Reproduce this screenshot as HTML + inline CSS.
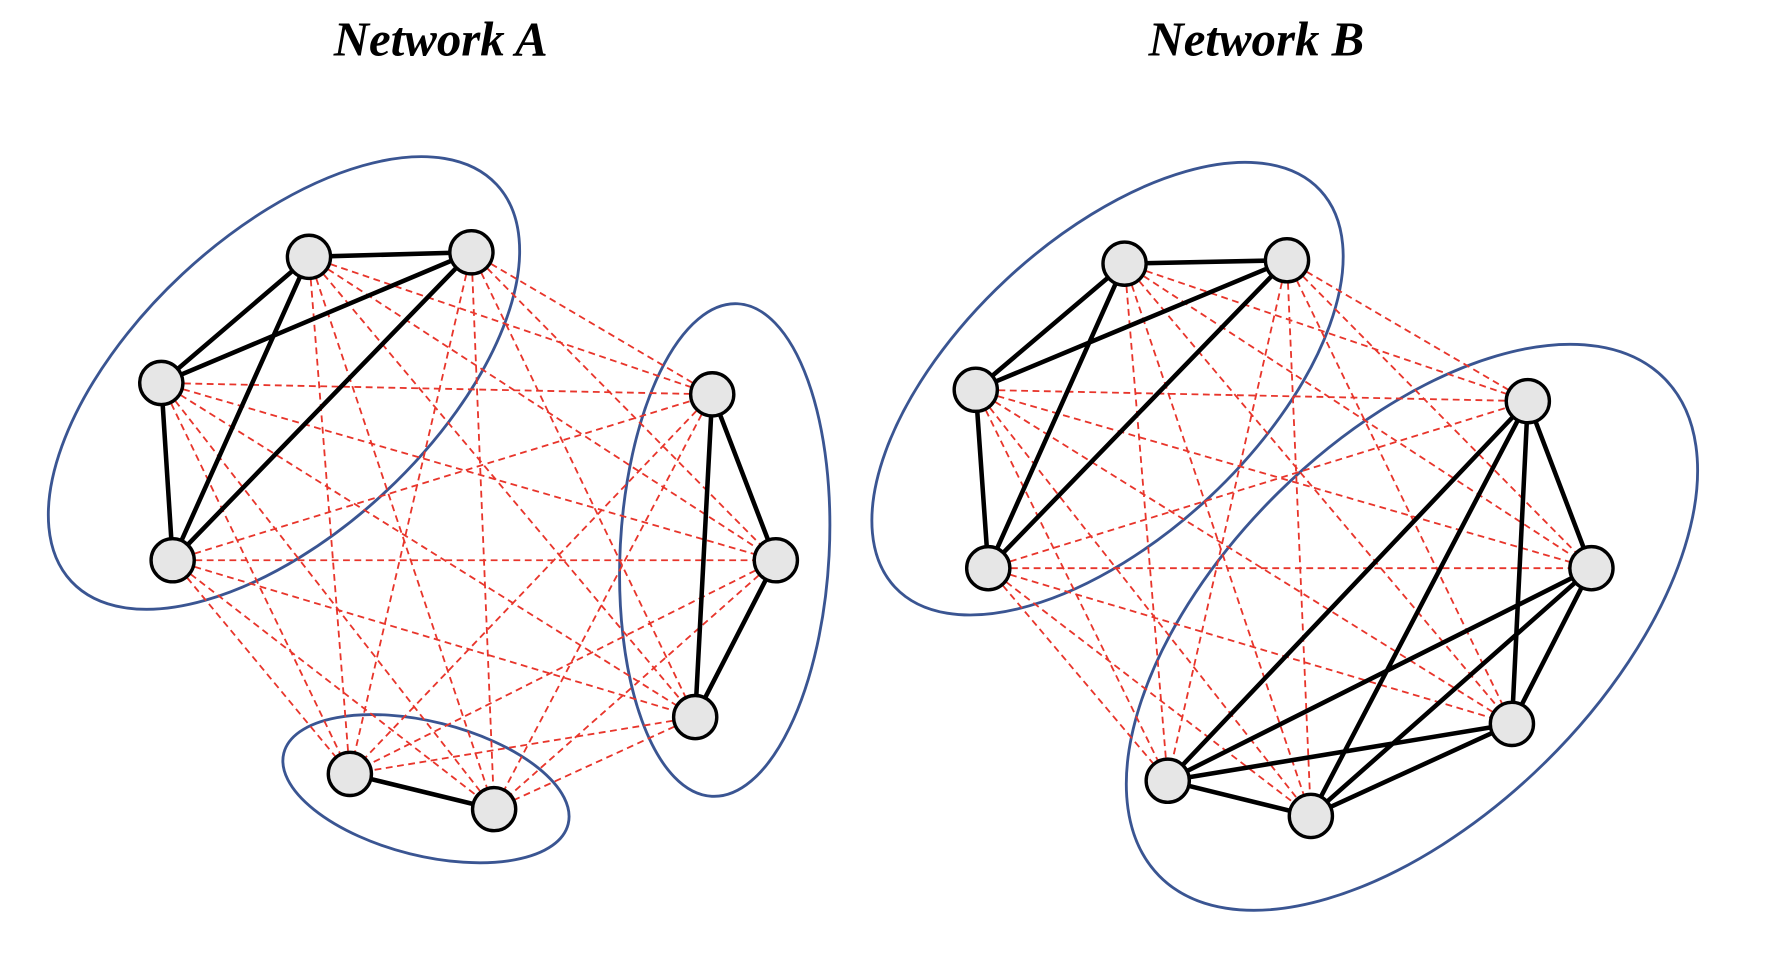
<!DOCTYPE html>
<html><head><meta charset="utf-8"><style>html,body{margin:0;padding:0;background:#fff;overflow:hidden;width:1780px;height:958px}svg{display:block}</style></head>
<body>
<svg width="1780" height="958" viewBox="0 0 1567 843" preserveAspectRatio="none" xmlns="http://www.w3.org/2000/svg">
<g font-family="Liberation Serif, serif" font-weight="bold" font-style="italic" font-size="43" text-anchor="middle" fill="#000">
<text x="388" y="49">Network A</text>
<text x="1106" y="49">Network B</text>
</g>
<g fill="none" stroke="#3a5592" stroke-width="2.5">
<ellipse cx="250" cy="337" rx="256" ry="131" transform="rotate(-43 250 337)"/>
<ellipse cx="638" cy="484" rx="92" ry="217" transform="rotate(3 638 484)"/>
<ellipse cx="375" cy="694" rx="129" ry="59" transform="rotate(14 375 694)"/>
<ellipse cx="975" cy="342" rx="256" ry="131" transform="rotate(-43 975 342)"/>
<ellipse cx="1243" cy="552" rx="312" ry="167" transform="rotate(-44.5 1243 552)"/>
</g>
<g fill="none" stroke="#e8352b" stroke-width="1.6" stroke-dasharray="6 4">
<path d="M272 226L627 347M272 226L683 493M272 226L612 631M272 226L308 681M272 226L435 712
M415 222L627 347M415 222L683 493M415 222L612 631M415 222L308 681M415 222L435 712
M142 337L627 347M142 337L683 493M142 337L612 631M142 337L308 681M142 337L435 712
M152 493L627 347M152 493L683 493M152 493L612 631M152 493L308 681M152 493L435 712
M627 347L308 681M627 347L435 712M683 493L308 681M683 493L435 712M612 631L308 681M612 631L435 712"/>
<path d="M990 232L1345 353M990 232L1401 500M990 232L1331 637M990 232L1028 687M990 232L1154 718
M1133 229L1345 353M1133 229L1401 500M1133 229L1331 637M1133 229L1028 687M1133 229L1154 718
M859 343L1345 353M859 343L1401 500M859 343L1331 637M859 343L1028 687M859 343L1154 718
M870 500L1345 353M870 500L1401 500M870 500L1331 637M870 500L1028 687M870 500L1154 718"/>
</g>
<g fill="none" stroke="#000" stroke-width="4">
<path d="M272 226L415 222M272 226L142 337M272 226L152 493M415 222L142 337M415 222L152 493M142 337L152 493M627 347L683 493M627 347L612 631M683 493L612 631M308 681L435 712"/>
<path d="M990 232L1133 229M990 232L859 343M990 232L870 500M1133 229L859 343M1133 229L870 500M859 343L870 500
M1345 353L1401 500M1345 353L1331 637M1345 353L1028 687M1345 353L1154 718M1401 500L1331 637M1401 500L1028 687M1401 500L1154 718M1331 637L1028 687M1331 637L1154 718M1028 687L1154 718"/>
</g>
<g fill="#e6e6e6" stroke="#000" stroke-width="3">
<circle cx="272" cy="226" r="19"/><circle cx="415" cy="222" r="19"/><circle cx="142" cy="337" r="19"/><circle cx="152" cy="493" r="19"/><circle cx="627" cy="347" r="19"/><circle cx="683" cy="493" r="19"/><circle cx="612" cy="631" r="19"/><circle cx="308" cy="681" r="19"/><circle cx="435" cy="712" r="19"/>
<circle cx="990" cy="232" r="19"/><circle cx="1133" cy="229" r="19"/><circle cx="859" cy="343" r="19"/><circle cx="870" cy="500" r="19"/><circle cx="1345" cy="353" r="19"/><circle cx="1401" cy="500" r="19"/><circle cx="1331" cy="637" r="19"/><circle cx="1028" cy="687" r="19"/><circle cx="1154" cy="718" r="19"/>
</g>
</svg>
</body></html>
